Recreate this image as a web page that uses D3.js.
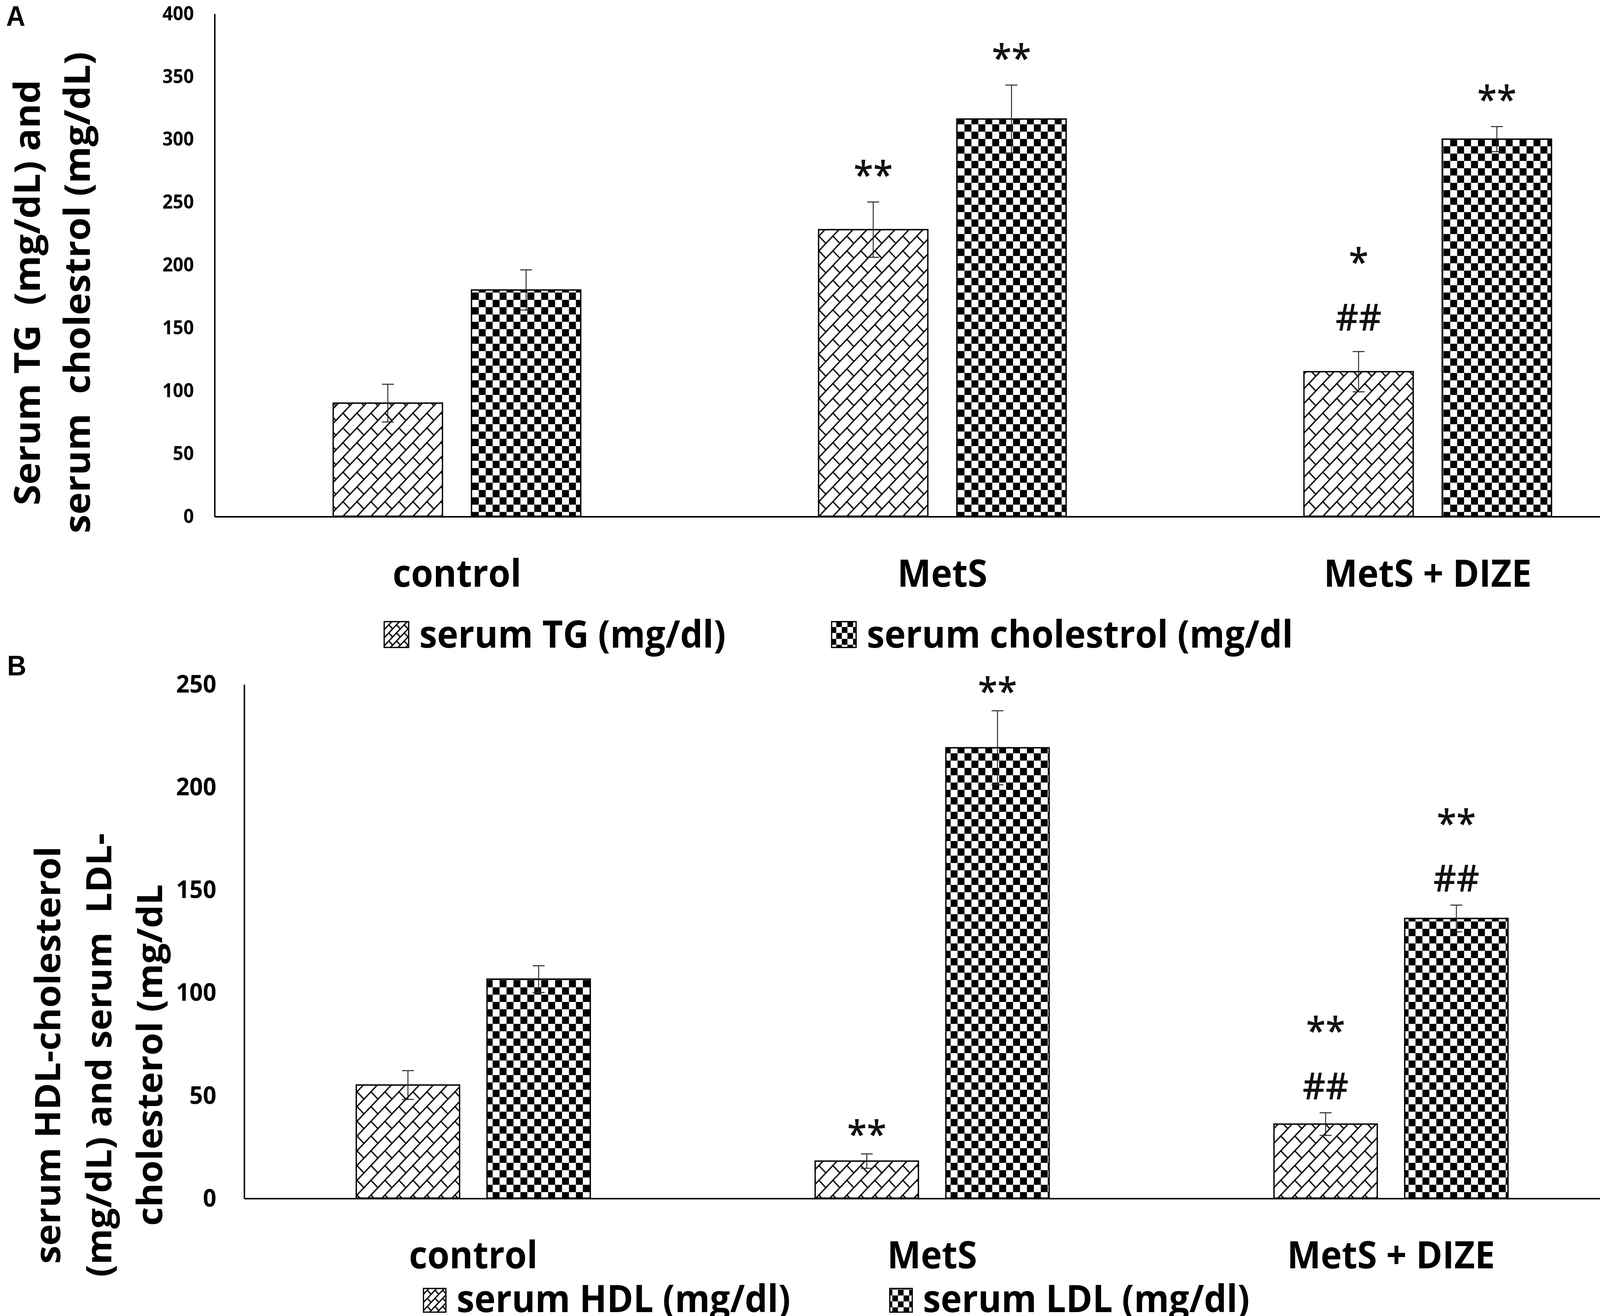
<!DOCTYPE html>
<html>
<head>
<meta charset="utf-8">
<script src="https://cdn.jsdelivr.net/npm/d3@7"></script>
<style>
  html, body { margin: 0; width: 100%; height: 100%; overflow: hidden; background: #fff; }
  .container { width: 100vw; height: 100vh; }
  svg { display: block; width: 100vw; height: 100vh; }
</style>
</head>
<body>
<div class="container"></div>
<script>
// ---- data ----
const groups = ["control", "MetS", "MetS + DIZE"];

// panel A
const seriesA = ["serum TG (mg/dl)", "serum cholestrol (mg/dl"];
const tgMean = [90, 228, 115];
const tgErr = [15, 22, 16];
const cholMean = [180, 316, 300];
const cholErr = [16, 27, 10];
const tgMarks = [[], ["**"], ["##", "*"]];
const cholMarks = [[], ["**"], ["**"]];
const ticksA = [0, 50, 100, 150, 200, 250, 300, 350, 400];
const titleA = ["Serum TG  (mg/dL) and", "serum  cholestrol (mg/dL)"];

// panel B
const seriesB = ["serum HDL (mg/dl)", "serum LDL (mg/dl)"];
const hdlMean = [55, 18, 36];
const hdlErr = [7, 3.5, 5.5];
const ldlMean = [106.5, 219, 136];
const ldlErr = [6.5, 18, 6.5];
const hdlMarks = [[], ["**"], ["##", "**"]];
const ldlMarks = [[], ["**"], ["##", "**"]];
const ticksB = [0, 50, 100, 150, 200, 250];
const titleB = ["serum HDL-cholesterol", "(mg/dL) and serum  LDL-", "cholesterol (mg/dL"];

// ---- layout ----
const vbW = 1568, vbH = 1223.6;
const font = "'Open Sans', 'Noto Sans', sans-serif";
const bigSize = 35;
const legendSize = 35;

// drawing coordinates follow the 1568-wide reference; the svg fills the window
const svg = d3.select(".container")
  .append("svg")
  .attr("viewBox", `0 0 ${vbW} ${vbH}`)
  .attr("preserveAspectRatio", "none");

svg.append("rect").attr("width", vbW).attr("height", vbH).attr("fill", "#fff");

// fill patterns
const defs = svg.append("defs");

function brickPattern(id, scale) {
  const L = 19.4, h = 9.7;
  const p = defs.append("pattern")
    .attr("id", id)
    .attr("patternUnits", "userSpaceOnUse")
    .attr("width", L)
    .attr("height", 2 * h)
    .attr("patternTransform", `rotate(-45) scale(${scale})`);
  p.append("rect").attr("width", L).attr("height", 2 * h).attr("fill", "#fff");
  const segs = [
    [0, h / 2, L, h / 2],
    [0, 1.5 * h, L, 1.5 * h],
    [L / 4, h / 2, L / 4, 1.5 * h],
    [0.75 * L, 1.5 * h, 0.75 * L, 2 * h],
    [0.75 * L, 0, 0.75 * L, h / 2]
  ];
  p.selectAll("line").data(segs).enter().append("line")
    .attr("x1", d => d[0]).attr("y1", d => d[1])
    .attr("x2", d => d[2]).attr("y2", d => d[3])
    .attr("stroke", "#000")
    .attr("stroke-width", 1.25 / scale);
}

function checkerPattern(id, c) {
  const p = defs.append("pattern")
    .attr("id", id)
    .attr("patternUnits", "userSpaceOnUse")
    .attr("width", 2 * c)
    .attr("height", 2 * c);
  p.append("rect").attr("width", 2 * c).attr("height", 2 * c).attr("fill", "#fff");
  p.append("rect").attr("width", c).attr("height", c).attr("fill", "#000");
  p.append("rect").attr("x", c).attr("y", c).attr("width", c).attr("height", c).attr("fill", "#000");
}

brickPattern("brick", 1);
brickPattern("brickIcon", 0.55);
checkerPattern("checker", 6.8);
checkerPattern("checkerIcon", 5.5);

const barFills = ["url(#brick)", "url(#checker)"];
const iconFills = ["url(#brickIcon)", "url(#checkerIcon)"];

// ink centre of the annotation glyphs, in em above the baseline
const glyphMid = { "*": 0.55, "#": 0.36 };

function drawPanel(p) {
  const g = svg.append("g");

  const x = d3.scaleBand().domain(groups).range([p.left, p.right]);
  const xs = d3.scaleBand()
    .domain(p.series)
    .range([0, x.bandwidth()])
    .paddingInner(0.21)
    .paddingOuter(0.86);
  const y = d3.scaleLinear().domain([0, p.max]).range([p.bottom, p.top]);

  const rows = [];
  groups.forEach((grp, i) => {
    p.series.forEach((s, j) => {
      rows.push({
        grp, s, j,
        mean: p.means[j][i],
        err: p.errs[j][i],
        marks: p.marks[j][i]
      });
    });
  });

  // bars
  g.append("g")
    .selectAll("rect")
    .data(rows)
    .enter()
    .append("rect")
    .attr("x", d => x(d.grp) + xs(d.s))
    .attr("y", d => y(d.mean))
    .attr("width", xs.bandwidth())
    .attr("height", d => y(0) - y(d.mean))
    .attr("fill", d => barFills[d.j])
    .attr("stroke", "#000")
    .attr("stroke-width", 1.3);

  // error bars
  const cap = 5.8;
  const eb = g.append("g")
    .attr("stroke", "#222")
    .attr("stroke-width", 0.9)
    .selectAll("g")
    .data(rows)
    .enter()
    .append("g")
    .attr("transform", d => `translate(${x(d.grp) + xs(d.s) + xs.bandwidth() / 2},0)`);
  eb.append("line")
    .attr("y1", d => y(d.mean - d.err))
    .attr("y2", d => y(d.mean + d.err));
  eb.append("line")
    .attr("x1", -cap).attr("x2", cap)
    .attr("y1", d => y(d.mean + d.err))
    .attr("y2", d => y(d.mean + d.err));
  eb.append("line")
    .attr("x1", -cap).attr("x2", cap)
    .attr("y1", d => y(d.mean - d.err))
    .attr("y2", d => y(d.mean - d.err));

  // significance marks
  const marks = [];
  rows.forEach(d => {
    d.marks.forEach((m, k) => {
      marks.push({
        text: m,
        cx: x(d.grp) + xs(d.s) + xs.bandwidth() / 2,
        cy: y(d.mean + d.err) - p.markGap - k * p.markStep
      });
    });
  });
  g.append("g")
    .selectAll("text")
    .data(marks)
    .enter()
    .append("text")
    .attr("x", d => d.cx)
    .attr("y", d => d.cy + glyphMid[d.text[0]] * p.markSize)
    .attr("text-anchor", "middle")
    .attr("font-family", font)
    .attr("font-weight", 600)
    .attr("font-size", p.markSize)
    .attr("fill", "#111")
    .text(d => d.text);

  // axes
  g.append("g")
    .attr("transform", `translate(${p.left},0)`)
    .call(d3.axisLeft(y).tickValues(p.ticks).tickSize(0).tickPadding(p.tickPad))
    .call(a => a.select(".domain").attr("stroke", "#000").attr("stroke-width", 1.4))
    .call(a => a.selectAll("text")
      .attr("font-family", font)
      .attr("font-weight", 700)
      .attr("font-size", p.tickSize)
      .attr("fill", "#000"));

  g.append("g")
    .attr("transform", `translate(0,${p.bottom})`)
    .call(d3.axisBottom(x).tickSize(0).tickPadding(p.catPad))
    .call(a => a.select(".domain").attr("stroke", "#000").attr("stroke-width", 1.4))
    .call(a => a.selectAll("text")
      .attr("font-family", font)
      .attr("font-weight", 700)
      .attr("font-size", bigSize)
      .attr("fill", "#000"));

  // axis title
  g.append("g")
    .selectAll("text")
    .data(p.title)
    .enter()
    .append("text")
    .attr("transform", (d, i) => `translate(${p.titleX[i]},${p.titleY}) rotate(-90)`)
    .attr("text-anchor", "middle")
    .attr("font-family", font)
    .attr("font-weight", 700)
    .attr("font-size", p.titleSize)
    .style("white-space", "pre")
    .attr("fill", "#000")
    .text(d => d);

  // legend
  const leg = g.append("g")
    .selectAll("g")
    .data(p.series)
    .enter()
    .append("g");
  leg.append("rect")
    .attr("x", (d, i) => p.legendX[i])
    .attr("y", p.legendY - p.iconSize)
    .attr("width", p.iconSize)
    .attr("height", p.iconSize)
    .attr("fill", (d, i) => iconFills[i])
    .attr("stroke", "#000")
    .attr("stroke-width", 1.2);
  leg.append("text")
    .attr("x", (d, i) => p.legendX[i] + p.iconSize + 10.5)
    .attr("y", p.legendY)
    .attr("font-family", font)
    .attr("font-weight", 700)
    .attr("font-size", legendSize)
    .attr("fill", "#000")
    .text(d => d);

  // panel letter
  g.append("text")
    .attr("x", p.letterX)
    .attr("y", p.letterY)
    .attr("font-family", "'Liberation Sans', Arial, sans-serif")
    .attr("font-weight", 700)
    .attr("font-size", 26)
    .attr("fill", "#000")
    .text(p.letter);
}

drawPanel({
  letter: "A", letterX: 6, letterY: 24,
  series: seriesA,
  means: [tgMean, cholMean],
  errs: [tgErr, cholErr],
  marks: [tgMarks, cholMarks],
  ticks: ticksA, max: 400,
  left: 210, right: 1637, top: 12.5, bottom: 480,
  tickSize: 18, tickPad: 20, catPad: 40.5,
  markSize: 35, markGap: 32, markStep: 58,
  title: titleA, titleX: [39, 88], titleY: 272, titleSize: 35,
  legendX: [376.5, 815], legendY: 602, iconSize: 24
});

drawPanel({
  letter: "B", letterX: 7, letterY: 628,
  series: seriesB,
  means: [hdlMean, ldlMean],
  errs: [hdlErr, ldlErr],
  marks: [hdlMarks, ldlMarks],
  ticks: ticksB, max: 250,
  left: 239, right: 1588, top: 636, bottom: 1114,
  tickSize: 23, tickPad: 27, catPad: 40.5,
  markSize: 35, markGap: 25, markStep: 58,
  title: titleB, titleX: [59, 109, 159], titleY: 981, titleSize: 34,
  legendX: [415, 872], legendY: 1220, iconSize: 22
});
</script>
</body>
</html>
